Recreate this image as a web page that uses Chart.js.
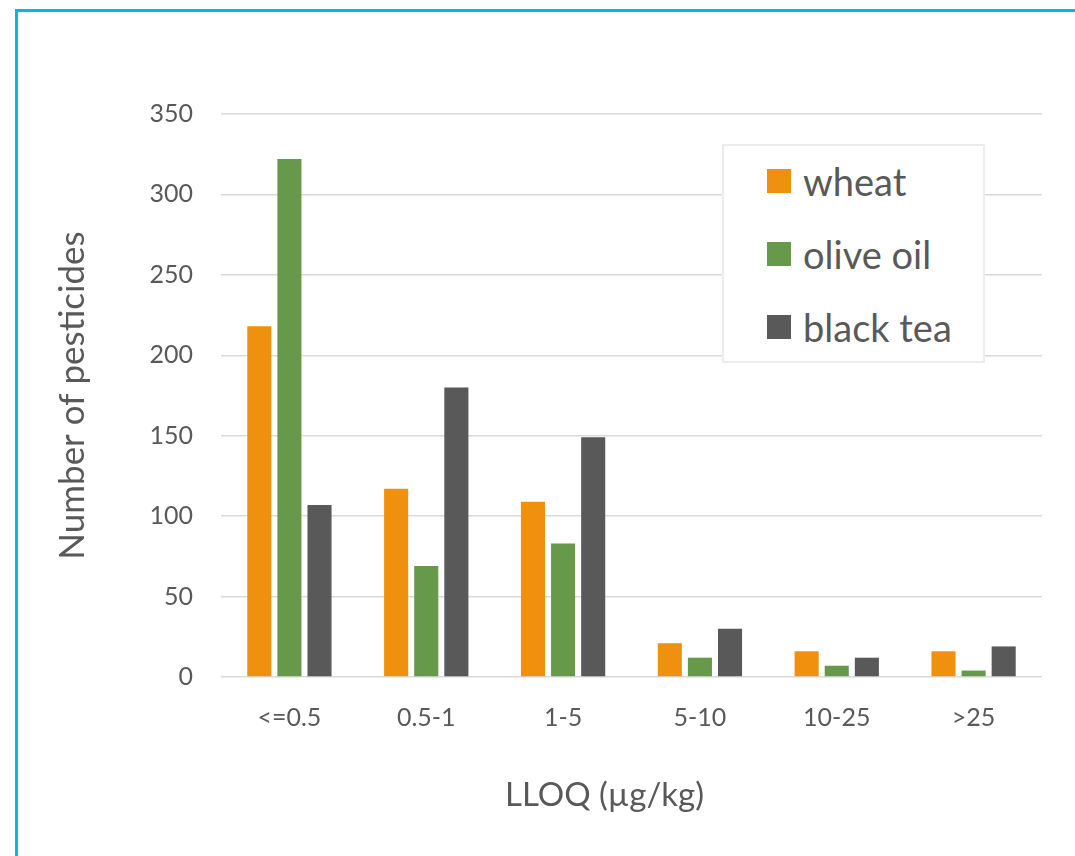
<!DOCTYPE html>
<html>
<head>
<meta charset="utf-8">
<title>Number of pesticides by LLOQ</title>
<script src="https://cdn.jsdelivr.net/npm/chart.js@4.4.1/dist/chart.umd.min.js"></script>
<style>
    html, body { margin: 0; padding: 0; background: #fff; overflow: hidden; }
    .frame {
        position: absolute; left: 15px; top: 9px; width: 1100px; height: 900px;
        border: 3px solid #00B8E6; box-sizing: border-box;
    }
    .wrap { position: absolute; left: 0; top: 0; width: 1075px; height: 856px; }
    .legend-box {
        position: absolute; left: 722px; top: 144px; width: 263px; height: 219px;
        box-sizing: border-box; border: 2px solid #ececec; background: #fff;
        font-family: Lato, "Open Sans", sans-serif; font-size: 38px; color: #595959;
    }
    .legend-item { position: absolute; left: 43px; height: 40px; display: flex; align-items: center; }
    .legend-item span.swatch { width: 24px; height: 24px; margin-right: 12px; }
</style>
</head>
<body>
<div class="frame"></div>
<div class="wrap">
    <canvas id="lloqChart" width="1075" height="856"></canvas>
    <div class="legend-box" id="legendBox"></div>
</div>
<script>
// LLOQ distribution per matrix
const categories = ['<=0.5', '0.5-1', '1-5', '5-10', '10-25', '>25'];
const wheat = [218, 117, 109, 21, 16, 16];
const oliveOil = [322, 69, 83, 12, 7, 4];
const blackTea = [107, 180, 149, 30, 12, 19];
const yTicks = [0, 50, 100, 150, 200, 250, 300, 350];
const xTitle = 'LLOQ (µg/kg)';

const textColor = '#595959';
const fontFamily = 'Lato, "Open Sans", sans-serif';

// x title sits a bit left of the plot centre in the original (Excel-style)
const xTitlePlugin = {
    id: 'xTitle',
    afterDraw(chart) {
        const { ctx, chartArea } = chart;
        ctx.save();
        ctx.font = `33px ${fontFamily}`;
        ctx.fillStyle = textColor;
        ctx.textAlign = 'center';
        ctx.textBaseline = 'middle';
        ctx.fillText(xTitle, (chartArea.left + chartArea.right) / 2 - 27, chartArea.bottom + 118);
        ctx.restore();
    }
};

/**
 * Build the chart
 */
function renderChart() {
    const ctx = document.getElementById('lloqChart').getContext('2d');

    const chart = new Chart(ctx, {
        type: 'bar',
        data: {
            labels: categories,
            datasets: [
                { label: 'wheat', data: wheat, backgroundColor: '#F0900F' },
                { label: 'olive oil', data: oliveOil, backgroundColor: '#669A4A' },
                { label: 'black tea', data: blackTea, backgroundColor: '#595959' }
            ]
        },
        options: {
            responsive: false,
            animation: false,
            categoryPercentage: 0.66,
            barPercentage: 0.8,
            layout: { padding: { top: 114, right: 33, left: 0, bottom: 0 } },
            plugins: {
                legend: { display: false },
                tooltip: { enabled: false }
            },
            scales: {
                x: {
                    grid: { display: false },
                    border: { display: false },
                    ticks: { color: textColor, font: { family: fontFamily, size: 25 }, padding: 18, maxRotation: 0 },
                    afterFit: (scale) => { scale.height = 856 - 677; }
                },
                y: {
                    min: 0,
                    max: 350,
                    afterBuildTicks: (scale) => { scale.ticks = yTicks.map(v => ({ value: v })); },
                    grid: { color: '#d9d9d9', lineWidth: 1.5, drawTicks: false },
                    border: { display: false },
                    ticks: { color: textColor, font: { family: fontFamily, size: 25 }, padding: 28 },
                    title: {
                        display: true, text: 'Number of pesticides', color: textColor,
                        font: { family: fontFamily, size: 35 }, padding: { top: 52, bottom: 0 }
                    },
                    afterFit: (scale) => { scale.width = 221; }
                }
            }
        },
        plugins: [xTitlePlugin]
    });

    buildLegend(chart);
}

/**
 * Legend drawn inside the plot, from the datasets
 */
function buildLegend(chart) {
    const box = document.getElementById('legendBox');
    const rowCenters = [35, 108, 181];
    chart.data.datasets.forEach((ds, i) => {
        const item = document.createElement('div');
        item.className = 'legend-item';
        item.style.top = (rowCenters[i] - 20) + 'px';
        item.innerHTML = `<span class="swatch" style="background:${ds.backgroundColor}"></span><span>${ds.label}</span>`;
        box.appendChild(item);
    });
}

renderChart();
</script>
</body>
</html>
